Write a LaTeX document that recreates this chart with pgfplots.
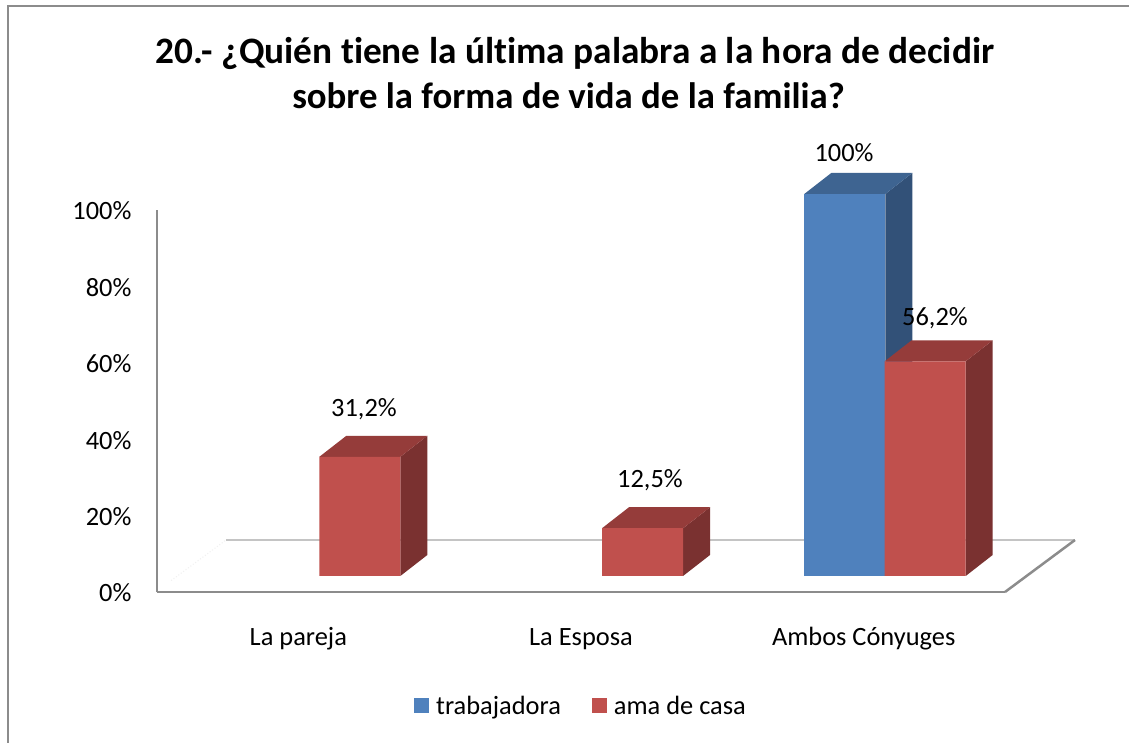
\documentclass[border=0pt]{standalone}
\usepackage{fontspec}
\setmainfont{Carlito}[Ligatures=NoCommon]
\usepackage{pgfplots}
\pgfplotsset{compat=1.18}
\definecolor{blueF}{HTML}{4F81BD}
\definecolor{blueT}{HTML}{3E6491}
\definecolor{blueS}{HTML}{325178}
\definecolor{redF}{HTML}{C0504D}
\definecolor{redT}{HTML}{953C3A}
\definecolor{redS}{HTML}{7A3130}
\definecolor{axisgray}{HTML}{8C8C8C}
\definecolor{backgray}{HTML}{C4C4C4}
% side and top faces of a 3D bar: left edge x (data), value, colours
\newcommand{\barfaces}[4]{%
  \pgfmathsetmacro{\xa}{#1+0.2866}%
  \pgfmathsetmacro{\xb}{#1+0.2866+0.0955}%
  \pgfmathsetmacro{\xc}{#1+0.0955}%
  \pgfmathsetmacro{\yb}{#2+5.5}%
  \addplot[fill=#3,draw=none,forget plot] coordinates {(\xa,0)(\xb,5.5)(\xb,\yb)(\xa,#2)} --cycle;
  \addplot[fill=#4,draw=none,forget plot] coordinates {(#1,#2)(\xc,\yb)(\xb,\yb)(\xa,#2)} --cycle;
}
\begin{document}
\begin{tikzpicture}[x=1pt,y=1pt]
\path[use as bounding box] (0,0) rectangle (1129,742);
\fill[white] (0,0) rectangle (1129,742);
\draw[axisgray,line width=2pt] (8,-2) -- (8,736) -- (1131,736);
\node[font=\fontsize{37.3}{44}\selectfont\bfseries] at (575,689) {20.- ¿Quién tiene la última palabra a la hora de decidir};
\node[font=\fontsize{36.8}{44}\selectfont\bfseries] at (568.5,646) {sobre la forma de vida de la familia?};
\begin{axis}[
  at={(157pt,150pt)},anchor=south west,
  scale only axis,width=848pt,height=382pt,
  xmin=0,xmax=3,ymin=-4.19,ymax=95.81,
  clip=false,
  axis x line*=bottom,axis y line*=left,
  axis line style={axisgray,line width=2.5pt,-},
  tick style={draw=none},
  xtick={0.5,1.5,2.5},
  xticklabels={La pareja,La Esposa,Ambos Cónyuges},
  ytick={-4.19,15.81,35.81,55.81,75.81,95.81},
  yticklabels={0\%,20\%,40\%,60\%,80\%,100\%},
  /pgf/number format/assume math mode=true,
  ticklabel style={font=\fontsize{26.4}{30}\selectfont,text=black},
  yticklabel style={xshift=-22pt,yshift=-1pt},
  xticklabel style={text height=17pt,text depth=6pt,yshift=-33pt},
  legend style={at={(0.5,-0.298)},anchor=center,draw=none,fill=none,
    font=\fontsize{26.4}{30}\selectfont,legend columns=2,
    /tikz/every even column/.append style={column sep=29pt}},
  legend image code/.code={\fill[#1] (0pt,-7.5pt) rectangle (15pt,7.5pt);},
  legend cell align=left,
]
% floor
\addplot[backgray,line width=1.5pt,forget plot] coordinates {(0.2441,9.42)(3.2476,9.42)};
\addplot[axisgray,line width=2.5pt,forget plot] coordinates {(3,-4.19)(3.2476,9.42)};
\addplot[black!6,line width=1pt,dotted,forget plot] coordinates {(0.05,-1.2)(0.2441,9.42)};
% blue bar
\barfaces{2.2899}{100}{blueS}{blueT}
\addplot[ybar,bar width=81pt,bar shift=-19.5pt,fill=blueF,draw=none] coordinates {(2.5,100)};
\addlegendentry{\hspace{5pt}trabajadora}
% red bars
\barfaces{0.5743}{31.2}{redS}{redT}
\barfaces{1.5743}{12.5}{redS}{redT}
\barfaces{2.5743}{56.2}{redS}{redT}
\addplot[ybar,bar width=81pt,bar shift=61.5pt,fill=redF,draw=none] coordinates {(0.5,31.2)(1.5,12.5)(2.5,56.2)};
\addlegendentry{\hspace{5pt}ama de casa}
\end{axis}
\begin{scope}[every node/.style={font=\fontsize{26.4}{30}\selectfont}]
\node at (364,332.5) {31,2\%};
\node at (650,261.5) {12,5\%};
\node at (844,589) {100\%};
\node at (935,424) {56,2\%};
\end{scope}
\end{tikzpicture}
\end{document}
